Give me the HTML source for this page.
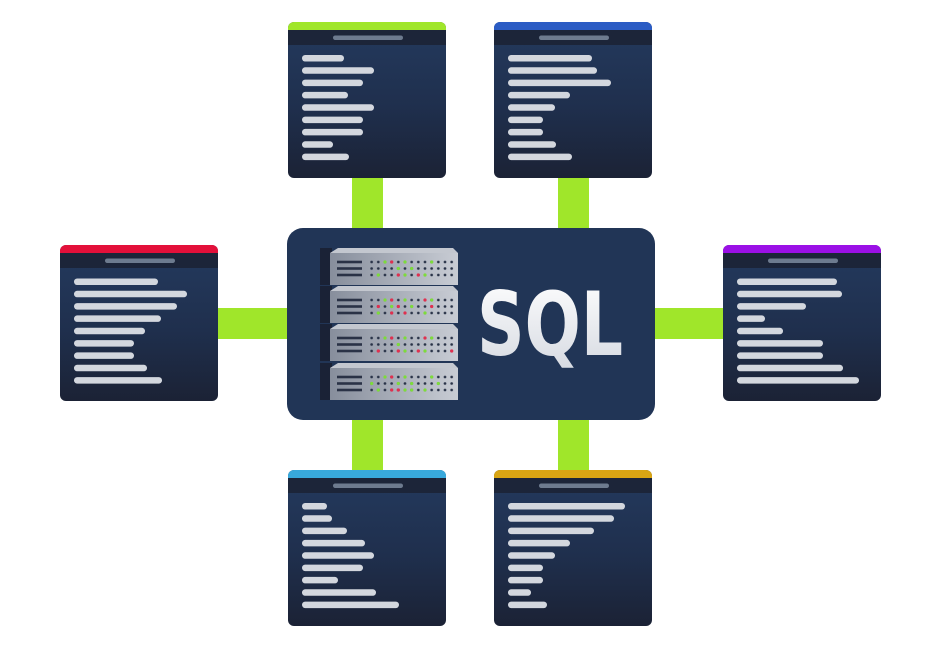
<!DOCTYPE html>
<html><head><meta charset="utf-8"><style>html,body{margin:0;padding:0;background:#fff;}svg{display:block}</style></head>
<body>
<svg width="933" height="660" viewBox="0 0 933 660" xmlns="http://www.w3.org/2000/svg">
<defs>
<linearGradient id="bg" x1="0" y1="0" x2="0" y2="1"><stop offset="0" stop-color="#243a5e"/><stop offset="0.55" stop-color="#1f2f4d"/><stop offset="1" stop-color="#1b2235"/></linearGradient>
<linearGradient id="face" x1="0" y1="0" x2="1" y2="0"><stop offset="0" stop-color="#878e9c"/><stop offset="1" stop-color="#c8ccd4"/></linearGradient>
<linearGradient id="sqlg" x1="0" y1="0" x2="0" y2="1"><stop offset="0" stop-color="#ffffff"/><stop offset="1" stop-color="#d4d8e0"/></linearGradient>
<pattern id="dots" x="368.3" y="258.7" width="6.67" height="6.5" patternUnits="userSpaceOnUse"><circle cx="3.33" cy="3.3" r="1.35" fill="#283247"/></pattern>
<pattern id="dots2" x="368.3" y="296.7" width="6.67" height="6.5" patternUnits="userSpaceOnUse"><circle cx="3.33" cy="3.3" r="1.35" fill="#283247"/></pattern>
<pattern id="dots3" x="368.3" y="334.7" width="6.67" height="6.5" patternUnits="userSpaceOnUse"><circle cx="3.33" cy="3.3" r="1.35" fill="#283247"/></pattern>
<pattern id="dots4" x="368.3" y="373.7" width="6.67" height="6.5" patternUnits="userSpaceOnUse"><circle cx="3.33" cy="3.3" r="1.35" fill="#283247"/></pattern>
<g id="win">
<rect x="0" y="0" width="158" height="156" rx="6" fill="url(#bg)"/>
<rect x="0" y="8" width="158" height="15" fill="#1c2539"/>
<rect x="45" y="13.5" width="70" height="4.5" rx="2.2" fill="#6d7b8f"/>
</g>
<g id="unit">
<rect x="-10" y="-5" width="12" height="37" fill="#1a2236"/>
<polygon points="0,0 8,-5 123,-5 128,0" fill="#c3c7cf"/>
<rect x="0" y="0" width="128" height="32" fill="url(#face)"/>
<rect x="7" y="7.7" width="25" height="2.6" fill="#2a3246"/>
<rect x="7" y="14.2" width="25" height="2.6" fill="#2a3246"/>
<rect x="7" y="20.7" width="25" height="2.6" fill="#2a3246"/>
</g>
</defs>

<g fill="#a0e62a">
<rect x="352" y="176" width="31" height="56"/>
<rect x="558" y="176" width="31" height="56"/>
<rect x="352" y="416" width="31" height="56"/>
<rect x="558" y="416" width="31" height="56"/>
<rect x="216" y="308" width="74" height="31"/>
<rect x="652" y="308" width="74" height="31"/>
</g>

<rect x="287" y="228" width="368" height="192" rx="16" fill="#213556"/>

<use href="#unit" x="330" y="253"/>
<use href="#unit" x="330" y="291"/>
<use href="#unit" x="330" y="329"/>
<use href="#unit" x="330" y="368"/>
<rect x="368.3" y="258.7" width="86.7" height="19.5" fill="url(#dots)"/>
<rect x="368.3" y="296.7" width="86.7" height="19.5" fill="url(#dots2)"/>
<rect x="368.3" y="334.7" width="86.7" height="19.5" fill="url(#dots3)"/>
<rect x="368.3" y="373.7" width="86.7" height="19.5" fill="url(#dots4)"/>
<g>
<circle cx="385" cy="262" r="1.6" fill="#7ddc3a"/><circle cx="391.7" cy="262" r="1.6" fill="#e0304f"/><circle cx="405" cy="262" r="1.6" fill="#7ddc3a"/><circle cx="431.7" cy="262" r="1.6" fill="#7ddc3a"/>
<circle cx="398.3" cy="268.5" r="1.6" fill="#7ddc3a"/><circle cx="411.7" cy="268.5" r="1.6" fill="#7ddc3a"/>
<circle cx="378.3" cy="275" r="1.6" fill="#7ddc3a"/><circle cx="398.3" cy="275" r="1.6" fill="#e0304f"/><circle cx="405" cy="275" r="1.6" fill="#7ddc3a"/><circle cx="418.3" cy="275" r="1.6" fill="#e0304f"/><circle cx="425" cy="275" r="1.6" fill="#7ddc3a"/>
<circle cx="385" cy="300" r="1.6" fill="#7ddc3a"/><circle cx="391.7" cy="300" r="1.6" fill="#e0304f"/><circle cx="405" cy="300" r="1.6" fill="#7ddc3a"/><circle cx="425" cy="300" r="1.6" fill="#e0304f"/><circle cx="431.7" cy="300" r="1.6" fill="#7ddc3a"/>
<circle cx="378.3" cy="306.5" r="1.6" fill="#e0304f"/><circle cx="391.7" cy="306.5" r="1.6" fill="#7ddc3a"/><circle cx="398.3" cy="306.5" r="1.6" fill="#e0304f"/><circle cx="411.7" cy="306.5" r="1.6" fill="#7ddc3a"/><circle cx="431.7" cy="306.5" r="1.6" fill="#e0304f"/>
<circle cx="378.3" cy="313" r="1.6" fill="#7ddc3a"/><circle cx="391.7" cy="313" r="1.6" fill="#e0304f"/><circle cx="405" cy="313" r="1.6" fill="#e0304f"/><circle cx="425" cy="313" r="1.6" fill="#7ddc3a"/>
<circle cx="385" cy="338" r="1.6" fill="#7ddc3a"/><circle cx="391.7" cy="338" r="1.6" fill="#e0304f"/><circle cx="405" cy="338" r="1.6" fill="#7ddc3a"/><circle cx="425" cy="338" r="1.6" fill="#e0304f"/><circle cx="431.7" cy="338" r="1.6" fill="#7ddc3a"/>
<circle cx="398.3" cy="344.5" r="1.6" fill="#7ddc3a"/>
<circle cx="378.3" cy="351" r="1.6" fill="#e0304f"/><circle cx="398.3" cy="351" r="1.6" fill="#e0304f"/><circle cx="405" cy="351" r="1.6" fill="#7ddc3a"/><circle cx="418.3" cy="351" r="1.6" fill="#e0304f"/><circle cx="425" cy="351" r="1.6" fill="#7ddc3a"/><circle cx="451.7" cy="351" r="1.6" fill="#e0304f"/>
<circle cx="385" cy="377" r="1.6" fill="#7ddc3a"/><circle cx="391.7" cy="377" r="1.6" fill="#e0304f"/><circle cx="405" cy="377" r="1.6" fill="#7ddc3a"/><circle cx="431.7" cy="377" r="1.6" fill="#7ddc3a"/>
<circle cx="371.7" cy="383.5" r="1.6" fill="#7ddc3a"/><circle cx="398.3" cy="383.5" r="1.6" fill="#7ddc3a"/><circle cx="411.7" cy="383.5" r="1.6" fill="#7ddc3a"/><circle cx="438.3" cy="383.5" r="1.6" fill="#7ddc3a"/>
<circle cx="378.3" cy="390" r="1.6" fill="#7ddc3a"/><circle cx="391.7" cy="390" r="1.6" fill="#e0304f"/><circle cx="398.3" cy="390" r="1.6" fill="#e0304f"/><circle cx="405" cy="390" r="1.6" fill="#7ddc3a"/><circle cx="411.7" cy="390" r="1.6" fill="#7ddc3a"/><circle cx="425" cy="390" r="1.6" fill="#7ddc3a"/>
</g>

<text x="477" y="355" font-family="DejaVu Sans, sans-serif" font-weight="bold" font-size="88" fill="url(#sqlg)" textLength="146" lengthAdjust="spacingAndGlyphs">SQL</text>

<g fill="#d3d7de">
<use href="#win" x="288" y="22"/>
<path d="M288,30 v-2 a6,6 0 0 1 6,-6 h146 a6,6 0 0 1 6,6 v2 z" fill="#a0e62a"/>
<rect x="302" y="55" width="42" height="6.5" rx="3.2"/><rect x="302" y="67.3" width="72" height="6.5" rx="3.2"/><rect x="302" y="79.6" width="61" height="6.5" rx="3.2"/><rect x="302" y="91.9" width="46" height="6.5" rx="3.2"/><rect x="302" y="104.3" width="72" height="6.5" rx="3.2"/><rect x="302" y="116.6" width="61" height="6.5" rx="3.2"/><rect x="302" y="128.9" width="61" height="6.5" rx="3.2"/><rect x="302" y="141.3" width="31" height="6.5" rx="3.2"/><rect x="302" y="153.6" width="47" height="6.5" rx="3.2"/>

<use href="#win" x="494" y="22"/>
<path d="M494,30 v-2 a6,6 0 0 1 6,-6 h146 a6,6 0 0 1 6,6 v2 z" fill="#2b5cc4"/>
<rect x="508" y="55" width="84" height="6.5" rx="3.2"/><rect x="508" y="67.3" width="89" height="6.5" rx="3.2"/><rect x="508" y="79.6" width="103" height="6.5" rx="3.2"/><rect x="508" y="91.9" width="62" height="6.5" rx="3.2"/><rect x="508" y="104.3" width="47" height="6.5" rx="3.2"/><rect x="508" y="116.6" width="35" height="6.5" rx="3.2"/><rect x="508" y="128.9" width="35" height="6.5" rx="3.2"/><rect x="508" y="141.3" width="48" height="6.5" rx="3.2"/><rect x="508" y="153.6" width="64" height="6.5" rx="3.2"/>

<use href="#win" x="60" y="245"/>
<path d="M60,253 v-2 a6,6 0 0 1 6,-6 h146 a6,6 0 0 1 6,6 v2 z" fill="#e3103a"/>
<rect x="74" y="278.5" width="84" height="6.5" rx="3.2"/><rect x="74" y="290.8" width="113" height="6.5" rx="3.2"/><rect x="74" y="303.1" width="103" height="6.5" rx="3.2"/><rect x="74" y="315.4" width="87" height="6.5" rx="3.2"/><rect x="74" y="327.8" width="71" height="6.5" rx="3.2"/><rect x="74" y="340.1" width="60" height="6.5" rx="3.2"/><rect x="74" y="352.4" width="60" height="6.5" rx="3.2"/><rect x="74" y="364.8" width="73" height="6.5" rx="3.2"/><rect x="74" y="377.1" width="88" height="6.5" rx="3.2"/>

<use href="#win" x="723" y="245"/>
<path d="M723,253 v-2 a6,6 0 0 1 6,-6 h146 a6,6 0 0 1 6,6 v2 z" fill="#9b10e6"/>
<rect x="737" y="278.5" width="100" height="6.5" rx="3.2"/><rect x="737" y="290.8" width="105" height="6.5" rx="3.2"/><rect x="737" y="303.1" width="69" height="6.5" rx="3.2"/><rect x="737" y="315.4" width="28" height="6.5" rx="3.2"/><rect x="737" y="327.8" width="46" height="6.5" rx="3.2"/><rect x="737" y="340.1" width="86" height="6.5" rx="3.2"/><rect x="737" y="352.4" width="86" height="6.5" rx="3.2"/><rect x="737" y="364.8" width="106" height="6.5" rx="3.2"/><rect x="737" y="377.1" width="122" height="6.5" rx="3.2"/>

<use href="#win" x="288" y="470"/>
<path d="M288,478 v-2 a6,6 0 0 1 6,-6 h146 a6,6 0 0 1 6,6 v2 z" fill="#38a9dc"/>
<rect x="302" y="503" width="25" height="6.5" rx="3.2"/><rect x="302" y="515.3" width="30" height="6.5" rx="3.2"/><rect x="302" y="527.6" width="45" height="6.5" rx="3.2"/><rect x="302" y="539.9" width="63" height="6.5" rx="3.2"/><rect x="302" y="552.3" width="72" height="6.5" rx="3.2"/><rect x="302" y="564.6" width="61" height="6.5" rx="3.2"/><rect x="302" y="576.9" width="36" height="6.5" rx="3.2"/><rect x="302" y="589.3" width="74" height="6.5" rx="3.2"/><rect x="302" y="601.6" width="97" height="6.5" rx="3.2"/>

<use href="#win" x="494" y="470"/>
<path d="M494,478 v-2 a6,6 0 0 1 6,-6 h146 a6,6 0 0 1 6,6 v2 z" fill="#d9a514"/>
<rect x="508" y="503" width="117" height="6.5" rx="3.2"/><rect x="508" y="515.3" width="106" height="6.5" rx="3.2"/><rect x="508" y="527.6" width="86" height="6.5" rx="3.2"/><rect x="508" y="539.9" width="62" height="6.5" rx="3.2"/><rect x="508" y="552.3" width="47" height="6.5" rx="3.2"/><rect x="508" y="564.6" width="35" height="6.5" rx="3.2"/><rect x="508" y="576.9" width="35" height="6.5" rx="3.2"/><rect x="508" y="589.3" width="23" height="6.5" rx="3.2"/><rect x="508" y="601.6" width="39" height="6.5" rx="3.2"/>
</g>
</svg>
</body></html>
